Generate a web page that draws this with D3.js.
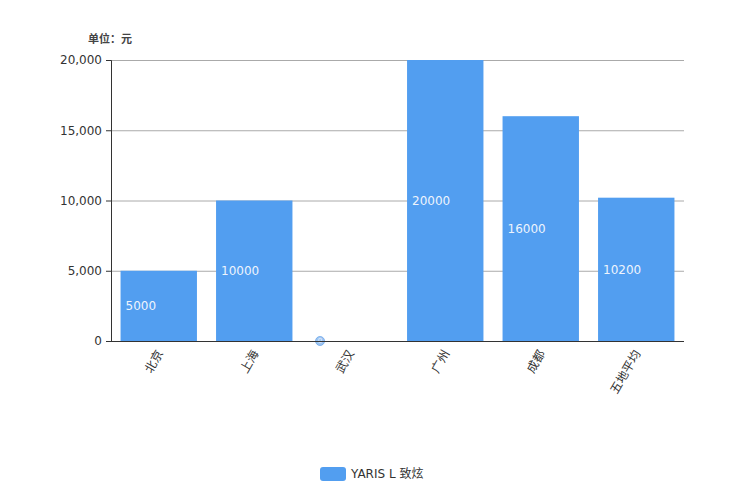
<!DOCTYPE html>
<html lang="zh">
<head>
<meta charset="UTF-8">
<title>YARIS L 致炫</title>
<script src="https://d3js.org/d3.v7.min.js"></script>
<style>
  body { margin: 0; background: #fff; font-family: "DejaVu Sans", "Noto Sans CJK SC", sans-serif; }
  text { fill: #333; }
</style>
</head>
<body>
<div id="chart"></div>
<script>
  // data
  const cities = ["北京", "上海", "武汉", "广州", "成都", "五地平均"];
  const prices = [5000, 10000, 0, 20000, 16000, 10200];
  const yTicks = [0, 5000, 10000, 15000, 20000];
  const seriesName = "YARIS L 致炫";
  const unitLabel = "单位：元";

  const width = 744, height = 496;
  const margin = { top: 60, right: 60, bottom: 155, left: 111 };
  const barColor = "#529ef0";

  const svg = d3.select("#chart").append("svg")
    .attr("width", width)
    .attr("height", height);

  const x = d3.scaleBand()
    .domain(cities)
    .range([margin.left, width - margin.right])
    .paddingInner(0.2)
    .paddingOuter(0.1);

  const y = d3.scaleLinear()
    .domain([0, 20000])
    .range([height - margin.bottom, margin.top]);

  // grid lines
  svg.append("g")
    .selectAll("line")
    .data(yTicks.filter(d => d > 0))
    .join("line")
    .attr("x1", margin.left)
    .attr("x2", width - margin.right)
    .attr("y1", d => y(d) + 0.5)
    .attr("y2", d => y(d) + 0.5)
    .attr("stroke", "#aaa")
    .attr("stroke-width", 1);

  // bars
  svg.append("g")
    .selectAll("rect")
    .data(cities)
    .join("rect")
    .attr("x", d => x(d))
    .attr("width", x.bandwidth())
    .attr("y", (d, i) => y(prices[i]))
    .attr("height", (d, i) => y(0) - y(prices[i]))
    .attr("fill", barColor);

  // value labels
  const labels = svg.append("g");
  cities.forEach((c, i) => {
    const v = prices[i];
    const ly = (y(v) + y(0)) / 2;
    if (v === 0) {
      labels.append("circle")
        .attr("cx", x(c) + 8.5)
        .attr("cy", y(0))
        .attr("r", 4.5)
        .attr("fill", "#9cc4f2")
        .attr("stroke", "#6fa8ea")
        .attr("stroke-width", 0.8);
      labels.append("text")
        .attr("x", x(c) + 8.5)
        .attr("y", y(0))
        .attr("dy", "0.35em")
        .attr("text-anchor", "middle")
        .style("font-size", "7px")
        .style("fill", "#e8f1fc")
        .text(v);
    } else {
      labels.append("text")
        .attr("x", x(c) + 5)
        .attr("y", ly)
        .attr("dy", "0.35em")
        .style("font-size", "12px")
        .style("fill", "#eef4fd")
        .text(v);
    }
  });

  // y axis
  const yAxis = svg.append("g")
    .attr("transform", `translate(${margin.left},0)`)
    .call(d3.axisLeft(y).tickValues(yTicks).tickFormat(d3.format(",")).tickSize(5).tickPadding(4));
  yAxis.select(".domain").attr("stroke", "#333");
  yAxis.selectAll(".tick line").attr("stroke", "#333");
  yAxis.selectAll(".tick text").style("font-size", "12px").style("fill", "#333")
    .style("font-family", "'DejaVu Sans', sans-serif");

  // x axis
  const xAxis = svg.append("g")
    .attr("transform", `translate(0,${y(0)})`)
    .call(d3.axisBottom(x).tickSize(0).tickPadding(8));
  xAxis.select(".domain").attr("stroke", "#333").attr("d", `M${margin.left},0.5H${width - margin.right}`);
  xAxis.selectAll(".tick text")
    .style("font-size", "12px")
    .style("fill", "#333")
    .style("font-family", "'Noto Sans CJK SC', sans-serif")
    .attr("text-anchor", "end")
    .attr("transform", "translate(1,10) rotate(-60)")
    .attr("dy", "0.35em")
    .attr("y", 0)
    .attr("x", 0);

  // unit label
  svg.append("text")
    .attr("x", 88)
    .attr("y", 43)
    .style("font-size", "11px")
    .style("font-family", "'Noto Sans CJK SC', sans-serif")
    .style("font-weight", "bold")
    .style("fill", "#444")
    .text(unitLabel);

  // legend
  const legend = svg.append("g").attr("transform", "translate(320,467)");
  legend.append("rect")
    .attr("width", 26)
    .attr("height", 14)
    .attr("rx", 3)
    .attr("fill", barColor);
  legend.append("text")
    .attr("x", 31)
    .attr("y", 7)
    .attr("dy", "0.35em")
    .style("font-size", "12px")
    .style("font-family", "'DejaVu Sans', 'Noto Sans CJK SC', sans-serif")
    .style("fill", "#333")
    .text(seriesName);
</script>
</body>
</html>
